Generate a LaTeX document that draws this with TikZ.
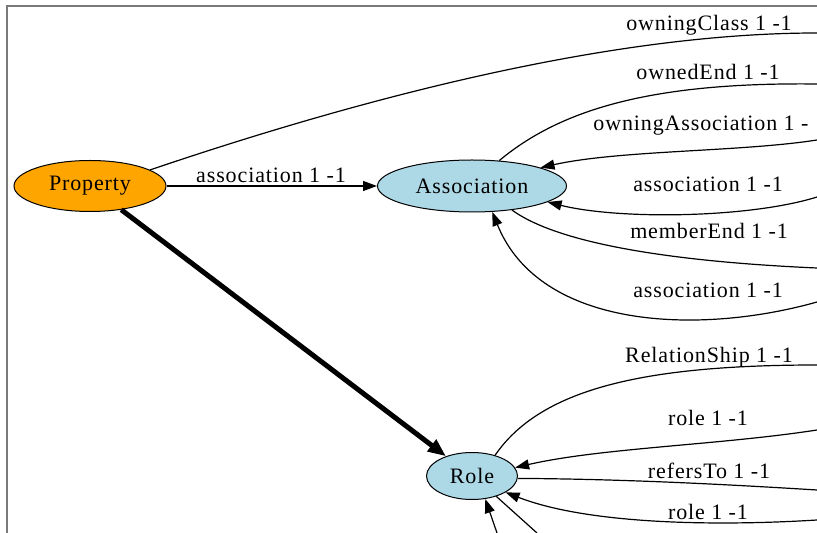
\documentclass[tikz,border=0pt]{standalone}
\usepackage{fontspec}
\setmainfont[LetterSpace=4]{Liberation Serif}
\usetikzlibrary{arrows.meta,shapes.geometric}
\definecolor{PropOrange}{HTML}{FFA500}
\definecolor{ClassBlue}{HTML}{ADD8E6}
\definecolor{FrameGray}{HTML}{7A7A7A}

\begin{document}
\begin{tikzpicture}[x=0.5pt,y=-0.5pt,>={Triangle[length=7pt,width=5pt]},
    every node/.style={font=\fontsize{11}{13}\selectfont},
    cls/.style={ellipse,draw=black,line width=0.5pt,inner sep=0pt},
    edge/.style={black,line width=0.6pt},
    lab/.style={inner sep=0pt}]
    \clip (0,0) rectangle (817,533);
    \draw[FrameGray,line width=1pt] (7,540) -- (7,6) -- (825,6);

    % classes
    \node[cls,fill=PropOrange,minimum width=76pt,minimum height=25.5pt] (prop) at (90,186) {Property};
    \node[cls,fill=ClassBlue,minimum width=94.5pt,minimum height=26pt] (asso) at (472,186) {Association};
    \node[cls,fill=ClassBlue,minimum width=45.5pt,minimum height=23.5pt] (role) at (472,476) {Role};

    % loose ends running out to the right
    \coordinate (ownClsEnd) at (817,33);
    \coordinate (ownEndEnd) at (817,84);
    \coordinate (ownAssEnd) at (817,140);
    \coordinate (assUpEnd) at (817,197);
    \coordinate (memEndEnd) at (817,268);
    \coordinate (assLoEnd) at (817,302);
    \coordinate (relEnd) at (817,365);
    \coordinate (roleUpEnd) at (817,430);
    \coordinate (refEnd) at (817,490);
    \coordinate (roleLoEnd) at (817,520);
    \coordinate (roleInEnd) at (497,533);
    \coordinate (roleOutEnd) at (537,533);

    % Property edges
    \draw[edge,->] (prop) -- (asso);
    \node[lab] (lAssLeft) at (271,175) {association 1 -1};
    \draw[edge] (prop.15) .. controls (380,92) and (620,33) .. (ownClsEnd);
    \node[lab] (lOwnCls) at (709,25) {owningClass 1 -1};
    \draw[black,line width=2.5pt,-{Triangle[length=9pt,width=7pt]}] (prop) -- (role);

    % Association edges
    \draw[edge] (asso.43) .. controls (560,110) and (650,82) .. (ownEndEnd);
    \node[lab] (lOwnEnd) at (708,72) {ownedEnd 1 -1};
    \draw[edge,->] (ownAssEnd) .. controls (740,152) and (620,150) .. (asso.15);
    \node[lab,anchor=west] (lOwnAss) at (593,126) {owningAssociation 1 -};
    \draw[edge,->] (assUpEnd) .. controls (750,218) and (620,220) .. (asso.-12);
    \node[lab] (lAssUp) at (708,184) {association 1 -1};
    \draw[edge] (asso.-31) .. controls (560,245) and (680,262) .. (memEndEnd);
    \node[lab] (lMemEnd) at (709,231) {memberEnd 1 -1};
    \draw[edge,->] (assLoEnd) .. controls (700,335) and (540,330) .. (asso.-52);
    \node[lab] (lAssLo) at (708,290) {association 1 -1};

    % Role edges
    \draw[edge] (role.42) .. controls (540,390) and (640,365) .. (relEnd);
    \node[lab] (lRel) at (709,357) {RelationShip 1 -1};
    \draw[edge,->] (roleUpEnd) .. controls (720,445) and (600,448) .. (role.11);
    \node[lab] (lRoleUp) at (708,418) {role 1 -1};
    \draw[edge] (role.-3) .. controls (620,479) and (720,484) .. (refEnd);
    \node[lab] (lRef) at (709,471) {refersTo 1 -1};
    \draw[edge,->] (roleLoEnd) .. controls (720,526) and (590,525) .. (role.-26);
    \node[lab] (lRoleLo) at (708,512) {role 1 -1};
    \draw[edge,->] (roleInEnd) -- (role.-60);
    \draw[edge] (role.-40) -- (roleOutEnd);
\end{tikzpicture}
\end{document}
